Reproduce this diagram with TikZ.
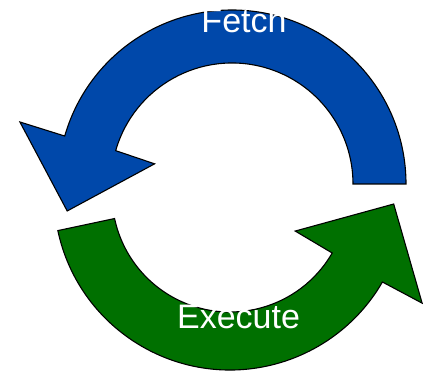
\documentclass[tikz,border=0pt]{standalone}
\usepackage{xcolor}
\usepackage{fontspec}
\setmainfont{Liberation Sans}
\usepackage{tikz}
\usetikzlibrary{positioning}
\definecolor{fetchblue}{RGB}{0,72,170}
\definecolor{execgreen}{RGB}{0,112,0}
\tikzset{
  cyclearrow/.style={draw=black, line width=1.1pt, line join=miter},
  bluearrow/.style={cyclearrow, fill=fetchblue},
  greenarrow/.style={cyclearrow, fill=execgreen},
  steplabel/.style={text=white, font=\fontsize{34}{34}\selectfont, anchor=base, inner sep=0pt}
}

\begin{document}
\begin{tikzpicture}[x=1pt, y=1pt]
  \useasboundingbox (0,0) rectangle (423,372);
  % upper half, turning left
  \begin{scope}[shift={(232,188)}]
    \draw[bluearrow] (0:174) arc[start angle=0, end angle=164, radius=174pt]
      -- (163.7:221) -- (189.3:167) -- (165.4:80) -- (164:121)
      arc[start angle=164, end angle=0, radius=121pt] -- cycle;
  \end{scope}
  % lower half, turning right
  \begin{scope}[shift={(230,178)}]
    \draw[greenarrow] (192:176) arc[start angle=192, end angle=330, radius=176pt]
      -- (330.4:221) -- (356.5:164) -- (330.4:75) -- (330:118)
      arc[start angle=330, end angle=192, radius=118pt] -- cycle;
  \end{scope}
  \node[steplabel] (fetch) at (244,339) {Fetch};
  \node[steplabel] (execute) at (238.5,43) {Execute};
\end{tikzpicture}
\end{document}
